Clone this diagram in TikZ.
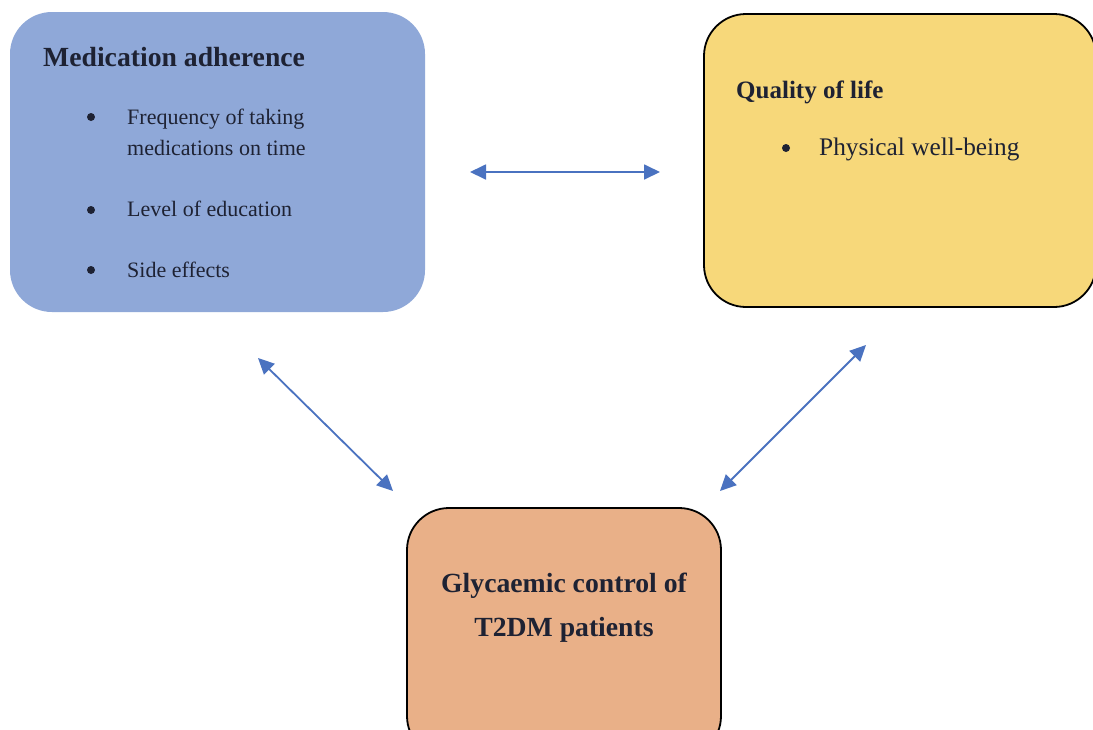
\documentclass[tikz,border=0pt]{standalone}
\usepackage{fontspec}
\setmainfont{Liberation Serif}
\usetikzlibrary{arrows.meta}
\definecolor{bluebox}{HTML}{8FA8D8}
\definecolor{yellowbox}{HTML}{F7D87A}
\definecolor{orangebox}{HTML}{E9B088}
\definecolor{arrowblue}{HTML}{4A72C0}
\definecolor{txt}{HTML}{1E2233}
\tikzset{
  box/.style={rectangle, rounded corners=42pt, inner sep=0pt, outer sep=0pt},
  title/.style={anchor=base west, inner sep=0pt, text=txt, font=\fontsize{27.7}{33}\selectfont\bfseries},
  item/.style={anchor=base west, inner sep=0pt, text=txt, font=\fontsize{22}{26}\selectfont},
  itemq/.style={anchor=base west, inner sep=0pt, text=txt, font=\fontsize{25.3}{30}\selectfont},
  dot/.style={circle, fill=txt, inner sep=0pt, minimum size=8pt},
  link/.style={draw=arrowblue, line width=1.8pt, {Triangle[length=16pt,width=15pt]}-{Triangle[length=16pt,width=15pt]}}
}
\begin{document}
\begin{tikzpicture}[x=1pt,y=-1pt]
\useasboundingbox (0,0) rectangle (1093,729);
\clip (0,0) rectangle (1093,729);
\fill[white] (0,0) rectangle (1093,729);
% boxes
\node[box, fill=bluebox, minimum width=415pt, minimum height=300pt] (med) at (217.5,162) {};
\node[box, fill=yellowbox, draw=black, line width=1.8pt, minimum width=392pt, minimum height=293pt] (qol) at (900,160.5) {};
\node[box, fill=orangebox, draw=black, line width=1.8pt, minimum width=314pt, minimum height=250pt] (gly) at (564,633) {};
% texts blue
\node[title] (medt) at (43,66) {Medication adherence};
\node[dot] (b1) at (91,117) {};
\node[item] (i1a) at (127,124) {Frequency of taking};
\node[item] (i1b) at (127,155) {medications on time};
\node[dot] (b2) at (91,210) {};
\node[item] (i2) at (127,216) {Level of education};
\node[dot] (b3) at (91,270) {};
\node[item] (i3) at (127,277) {Side effects};
% texts yellow
\node[title, font=\fontsize{25}{30}\selectfont\bfseries] (qolt) at (736,98) {Quality of life};
\node[dot] (b4) at (786,148) {};
\node[itemq] (i4) at (819,155) {Physical well-being};
% texts orange
\node[anchor=base, inner sep=0pt, text=txt, font=\fontsize{27.7}{33}\selectfont\bfseries] (g1) at (564,592) {Glycaemic control of};
\node[anchor=base, inner sep=0pt, text=txt, font=\fontsize{27.7}{33}\selectfont\bfseries] (g2) at (564,636) {T2DM patients};
% arrow endpoints
\coordinate (h1) at (470,172);
\coordinate (h2) at (660,172);
\coordinate (l1) at (258,358);
\coordinate (l2) at (393,491);
\coordinate (r1) at (866,345);
\coordinate (r2) at (720,491);
\draw[link] (h1) -- (h2);
\draw[link] (l1) -- (l2);
\draw[link] (r1) -- (r2);
\end{tikzpicture}
\end{document}
